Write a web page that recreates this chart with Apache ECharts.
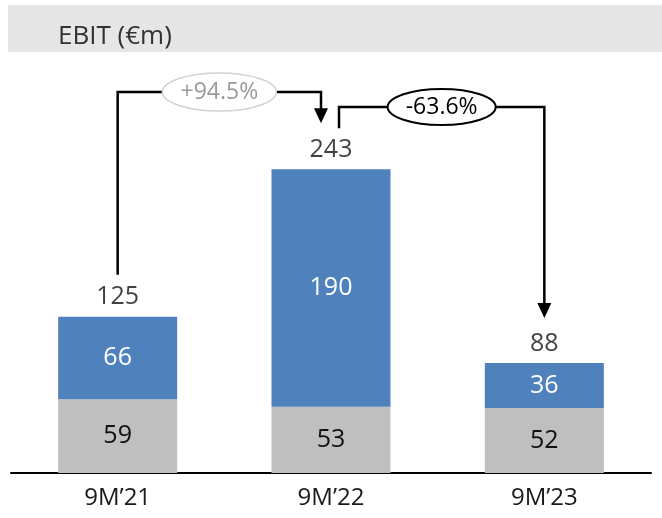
<!DOCTYPE html>
<html>
<head>
<meta charset="utf-8">
<script src="https://cdn.jsdelivr.net/npm/echarts@6/dist/echarts.min.js"></script>
<style>
  html, body { margin: 0; padding: 0; background: #fff; }
  #chart { width: 662px; height: 518px; }
</style>
</head>
<body>
<div id="chart"></div>
<script>
// EBIT by period, split into two stacked components
const categories = ['9M\u201921', '9M\u201922', '9M\u201923'];
const baseValues = [59, 53, 52];
const topValues = [66, 190, 36];
const totals = [125, 243, 88];
const changeLabels = ['+94.5%', '-63.6%'];

const FONT = '"Open Sans", "DejaVu Sans", sans-serif';
const chart = echarts.init(document.getElementById('chart'), null, { renderer: 'canvas' });

const option = {
  animation: false,
  backgroundColor: '#ffffff',
  title: {
    text: 'EBIT (\u20acm)',
    left: 53,
    top: 19,
    textStyle: { fontFamily: FONT, fontSize: 26, fontWeight: 'normal', color: '#333333' }
  },
  grid: { left: 11, right: 11, top: 98, bottom: 45, containLabel: false },
  xAxis: {
    type: 'category',
    data: categories,
    axisLine: { lineStyle: { color: '#000000', width: 2 } },
    axisTick: { show: false },
    axisLabel: { fontFamily: FONT, fontSize: 24, color: '#1a1a1a', margin: 13 }
  },
  yAxis: {
    type: 'value',
    min: 0,
    max: 300,
    show: false,
    splitLine: { show: false }
  },
  series: [
    {
      name: 'base',
      type: 'bar',
      stack: 'ebit',
      barWidth: 119,
      data: baseValues,
      itemStyle: { color: '#bfbfbf' },
      label: { show: true, position: 'inside', fontFamily: FONT, fontSize: 25, color: '#111111' }
    },
    {
      name: 'top',
      type: 'bar',
      stack: 'ebit',
      barWidth: 119,
      data: topValues,
      itemStyle: { color: '#4f81bd' },
      label: { show: true, position: 'inside', fontFamily: FONT, fontSize: 25, color: '#ffffff' }
    },
    {
      name: 'total',
      type: 'scatter',
      data: totals,
      symbolSize: 0,
      silent: true,
      label: {
        show: true, position: 'top', distance: 7,
        fontFamily: FONT, fontSize: 25, color: '#111111'
      }
    }
  ]
};
chart.setOption(option);

// Connectors with change bubbles, anchored to the bars through the axes
function px(i, v) { return chart.convertToPixel({ gridIndex: 0 }, [i, v]); }

function arrowHead(x, tipY) {
  return {
    type: 'polygon',
    shape: { points: [[x - 7, tipY - 15], [x + 7, tipY - 15], [x, tipY]] },
    style: { fill: '#000000' },
    z: 10
  };
}

function bubble(cx, cy, rx, ry, text, stroke, color, lw) {
  return [
    {
      type: 'ellipse',
      shape: { cx: cx, cy: cy, rx: rx, ry: ry },
      style: { fill: '#ffffff', stroke: stroke, lineWidth: lw },
      z: 11
    },
    {
      type: 'text',
      x: cx, y: cy,
      style: {
        text: text, fill: color, fontFamily: FONT, fontSize: 23,
        align: 'center', verticalAlign: 'middle'
      },
      z: 12
    }
  ];
}

const p0 = px(0, totals[0]);
const p1 = px(1, totals[1]);
const p2 = px(2, totals[2]);

const lvl1 = 92, lvl2 = 107;
const x0 = p0[0];
const x1a = p1[0] - 10;
const x1b = p1[0] + 8;
const x2 = p2[0];

const lineStyle = { stroke: '#000000', lineWidth: 2.5, fill: null };

const elements = [
  {
    type: 'rect',
    shape: { x: 8, y: 5, width: 654, height: 47 },
    style: { fill: '#e6e6e7' },
    z: 0
  },
  {
    type: 'polyline',
    shape: { points: [[x0, p0[1] - 42], [x0, lvl1], [x1a, lvl1], [x1a, p1[1] - 60]] },
    style: lineStyle,
    z: 10
  },
  arrowHead(x1a, p1[1] - 46),
  {
    type: 'polyline',
    shape: { points: [[x1b, p1[1] - 41], [x1b, lvl2], [x2, lvl2], [x2, p2[1] - 58]] },
    style: lineStyle,
    z: 10
  },
  arrowHead(x2, p2[1] - 45)
].concat(
  bubble((x0 + x1a) / 2, lvl1, 57, 19, changeLabels[0], '#d3d3d3', '#999999', 1.5),
  bubble((x1b + x2) / 2, lvl2, 54, 18, changeLabels[1], '#000000', '#000000', 2)
);

chart.setOption({ graphic: { elements: elements } });
</script>
</body>
</html>
